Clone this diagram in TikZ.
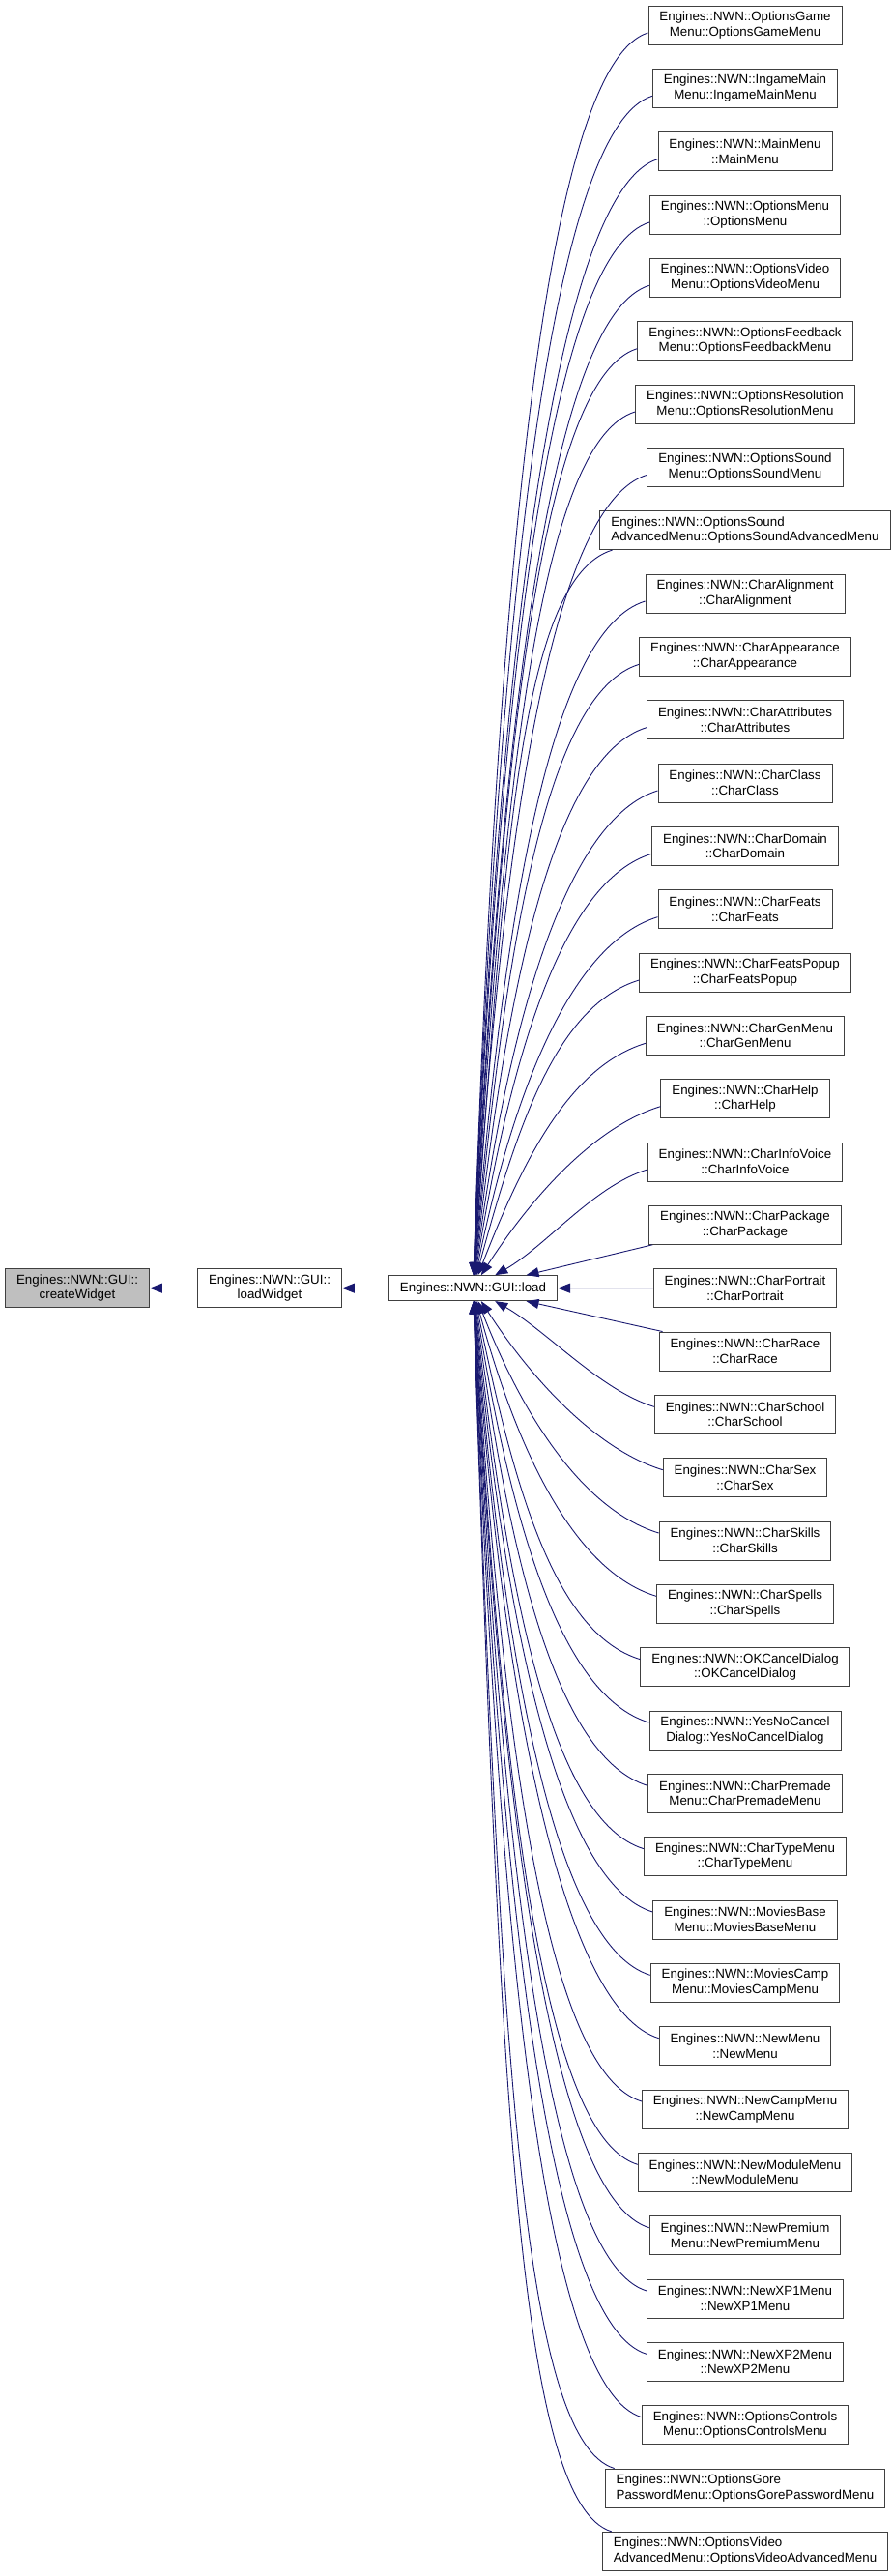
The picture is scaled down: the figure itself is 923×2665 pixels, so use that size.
\documentclass[tikz,border=0pt]{standalone}
\usepackage{fontspec}
\setmainfont{Liberation Sans}
\usetikzlibrary{arrows.meta,calc}
\definecolor{edgecol}{HTML}{191970}
\definecolor{boxline}{HTML}{404040}
\definecolor{grayfill}{HTML}{BFBFBF}
\begin{document}
\begin{tikzpicture}[x=1pt,y=-1pt,
  box/.style={draw=boxline, line width=0.9pt, fill=white, inner xsep=11.5pt, inner ysep=0pt,
    minimum height=40pt, font=\fontsize{13.33}{15.6}\selectfont},
  edge/.style={draw=edgecol, line width=0.9pt, -{Triangle[length=13pt,width=10pt]}}]
\useasboundingbox (0,0) rectangle (923,2665);
\node[box, fill=grayfill, align=center] (cw) at (80,1332.66) {Engines::NWN::GUI::\\createWidget};
\node[box, align=center] (lw) at (279,1332.66) {Engines::NWN::GUI::\\loadWidget};
\node[box, minimum height=26pt] (load) at (489.5,1332.66) {Engines::NWN::GUI::load};
\foreach \i/\lab/\al in {
 1/{Engines::NWN::OptionsGame\\Menu::OptionsGameMenu}/center,
 2/{Engines::NWN::IngameMain\\Menu::IngameMainMenu}/center,
 3/{Engines::NWN::MainMenu\\::MainMenu}/center,
 4/{Engines::NWN::OptionsMenu\\::OptionsMenu}/center,
 5/{Engines::NWN::OptionsVideo\\Menu::OptionsVideoMenu}/center,
 6/{Engines::NWN::OptionsFeedback\\Menu::OptionsFeedbackMenu}/center,
 7/{Engines::NWN::OptionsResolution\\Menu::OptionsResolutionMenu}/center,
 8/{Engines::NWN::OptionsSound\\Menu::OptionsSoundMenu}/center,
 9/{Engines::NWN::OptionsSound\\AdvancedMenu::OptionsSoundAdvancedMenu}/left,
 10/{Engines::NWN::CharAlignment\\::CharAlignment}/center,
 11/{Engines::NWN::CharAppearance\\::CharAppearance}/center,
 12/{Engines::NWN::CharAttributes\\::CharAttributes}/center,
 13/{Engines::NWN::CharClass\\::CharClass}/center,
 14/{Engines::NWN::CharDomain\\::CharDomain}/center,
 15/{Engines::NWN::CharFeats\\::CharFeats}/center,
 16/{Engines::NWN::CharFeatsPopup\\::CharFeatsPopup}/center,
 17/{Engines::NWN::CharGenMenu\\::CharGenMenu}/center,
 18/{Engines::NWN::CharHelp\\::CharHelp}/center,
 19/{Engines::NWN::CharInfoVoice\\::CharInfoVoice}/center,
 20/{Engines::NWN::CharPackage\\::CharPackage}/center,
 21/{Engines::NWN::CharPortrait\\::CharPortrait}/center,
 22/{Engines::NWN::CharRace\\::CharRace}/center,
 23/{Engines::NWN::CharSchool\\::CharSchool}/center,
 24/{Engines::NWN::CharSex\\::CharSex}/center,
 25/{Engines::NWN::CharSkills\\::CharSkills}/center,
 26/{Engines::NWN::CharSpells\\::CharSpells}/center,
 27/{Engines::NWN::OKCancelDialog\\::OKCancelDialog}/center,
 28/{Engines::NWN::YesNoCancel\\Dialog::YesNoCancelDialog}/center,
 29/{Engines::NWN::CharPremade\\Menu::CharPremadeMenu}/center,
 30/{Engines::NWN::CharTypeMenu\\::CharTypeMenu}/center,
 31/{Engines::NWN::MoviesBase\\Menu::MoviesBaseMenu}/center,
 32/{Engines::NWN::MoviesCamp\\Menu::MoviesCampMenu}/center,
 33/{Engines::NWN::NewMenu\\::NewMenu}/center,
 34/{Engines::NWN::NewCampMenu\\::NewCampMenu}/center,
 35/{Engines::NWN::NewModuleMenu\\::NewModuleMenu}/center,
 36/{Engines::NWN::NewPremium\\Menu::NewPremiumMenu}/center,
 37/{Engines::NWN::NewXP1Menu\\::NewXP1Menu}/center,
 38/{Engines::NWN::NewXP2Menu\\::NewXP2Menu}/center,
 39/{Engines::NWN::OptionsControls\\Menu::OptionsControlsMenu}/center,
 40/{Engines::NWN::OptionsGore\\PasswordMenu::OptionsGorePasswordMenu}/left,
 41/{Engines::NWN::OptionsVideo\\AdvancedMenu::OptionsVideoAdvancedMenu}/left}{
  \node[box, align=\al] (n\i) at (771, {26+65.333*(\i-1)}) {\lab};
}
\draw[edge] (lw.west) -- (cw.east);
\draw[edge] (load.west) -- (lw.east);
\draw[edge] (n21.west) -- (load.east);
\draw[edge] ([xshift=4pt]n20.south west) -- ([xshift=55pt]load.north);
\draw[edge] ([xshift=4pt]n22.north west) -- ([xshift=55pt]load.south);
\foreach \i in {1,...,41}{
  \pgfmathtruncatemacro\myd{\i-21}
  \ifnum\myd<-1
    \pgfmathsetmacro\myD{65.333*abs(\myd)}
    \pgfmathsetmacro\myth{90-60*pow(131/\myD,1.5)}
    \pgfmathsetmacro\myoa{100*(1-exp(-\myD/150))}
    \pgfmathsetmacro\myie{\myD*(0.45+0.00013*\myD)}
    \pgfmathsetmacro\mydx{13*cot(\myth)}
    \ifnum\i=9
      \coordinate (s\i) at ([xshift=13pt]n\i.south west);
    \else
      \coordinate (s\i) at ([yshift=-8pt]n\i.west);
    \fi
    \coordinate (t\i) at ([xshift=\mydx pt]load.north);
    \draw[edge] (s\i) .. controls ($(s\i)+(197:\myoa pt)$) and ($(t\i)+(\myth:\myie pt)$) .. (t\i);
  \else
    \ifnum\myd>1
      \pgfmathsetmacro\myD{65.333*abs(\myd)}
      \pgfmathsetmacro\myth{90-60*pow(131/\myD,1.5)}
      \pgfmathsetmacro\myoa{100*(1-exp(-\myD/150))}
      \pgfmathsetmacro\myie{\myD*(0.45+0.00013*\myD)}
      \pgfmathsetmacro\mydx{13*cot(\myth)}
      \ifnum\i>39
        \coordinate (s\i) at ([xshift=10pt]n\i.north west);
      \else
        \coordinate (s\i) at ([yshift=8pt]n\i.west);
      \fi
      \coordinate (t\i) at ([xshift=\mydx pt]load.south);
      \draw[edge] (s\i) .. controls ($(s\i)+(163:\myoa pt)$) and ($(t\i)+(-\myth:\myie pt)$) .. (t\i);
    \fi
  \fi
}
\end{tikzpicture}
\end{document}
